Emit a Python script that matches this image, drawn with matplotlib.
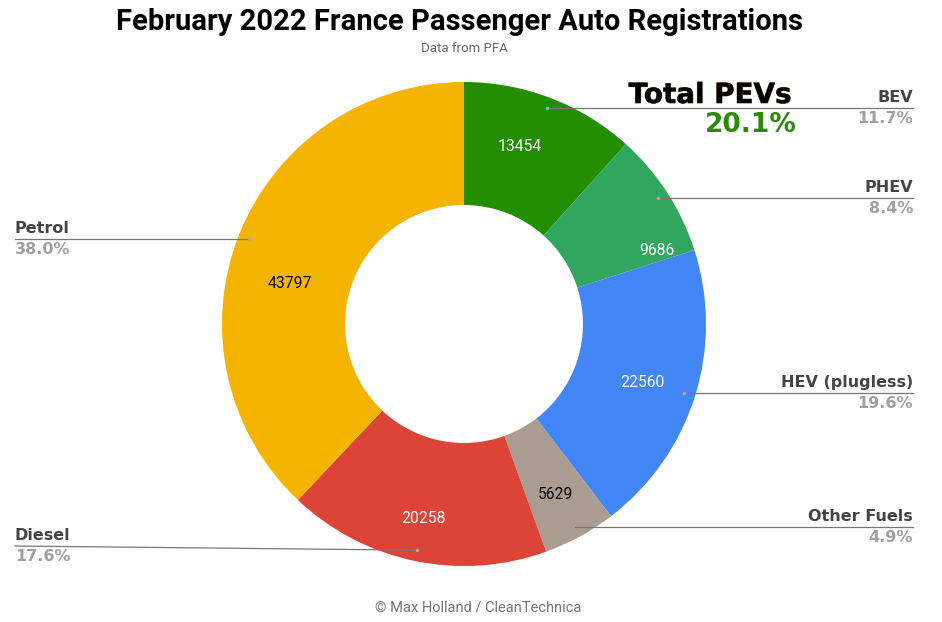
import numpy as np
import matplotlib
matplotlib.use("Agg")
import matplotlib.pyplot as plt
import matplotlib.patheffects as pe

categories = ["BEV", "PHEV", "HEV (plugless)", "Other Fuels", "Diesel", "Petrol"]
values = [13454, 9686, 22560, 5629, 20258, 43797]
pct_labels = ["11.7%", "8.4%", "19.6%", "4.9%", "17.6%", "38.0%"]
colors = ["#238f00", "#31a65f", "#4285f4", "#ab9c91", "#db4437", "#f4b400"]
value_colors = ["white", "white", "white", "black", "white", "black"]
total_pev_label = "20.1%"

W, H = 942, 622
fig = plt.figure(figsize=(W / 100, H / 100), dpi=100)

cx, cy = 464, 324
R, r_in = 242, 119

# pie axes (y up) drawn first
pax = fig.add_axes([0, 0, 1, 1], zorder=0)
wedges, _ = pax.pie(values, colors=colors, startangle=90, counterclock=False,
                    radius=R, center=(cx, H - cy),
                    wedgeprops=dict(width=R - r_in, linewidth=0, edgecolor="none"))
pax.set_xlim(0, W)
pax.set_ylim(0, H)
pax.set_aspect("auto")
pax.axis("off")

# overlay axes in pixel coordinates (y down)
ax = fig.add_axes([0, 0, 1, 1], zorder=1)
ax.patch.set_alpha(0)
ax.set_xlim(0, W)
ax.set_ylim(H, 0)
ax.axis("off")

total = sum(values)
cum = np.cumsum([0] + values)
mid_angles = [(cum[i] + values[i] / 2) / total * 2 * np.pi for i in range(len(values))]

lab_font = dict(family="DejaVu Sans", weight="bold", fontsize=11.5)
right_x, left_x = 913, 15
label_side = ["R", "R", "R", "R", "L", "L"]
line_y_override = {4: 546}
# small nudges (pixels) of value labels relative to mid-angle placement
value_nudge = {0: (-11, -5), 1: (38, 27), 2: (2, 3), 3: (3, 8), 4: (-3, 13), 5: (-2, 28)}

for i, a in enumerate(mid_angles):
    dx, dy = np.sin(a), -np.cos(a)
    nx, ny = value_nudge.get(i, (0, 0))
    vx, vy = cx + 185 * dx + nx, cy + 185 * dy + ny
    ax.text(vx, vy, str(values[i]), ha="center", va="center", fontsize=11.3,
            family="Roboto", color=value_colors[i])
    px, py = cx + 231 * dx, cy + 231 * dy
    ly = line_y_override.get(i, py)
    if label_side[i] == "R":
        ax.plot([px, right_x], [py, ly], color="#777777", lw=0.9)
        tx, ha = right_x, "right"
    else:
        ax.plot([left_x, px], [ly, py], color="#777777", lw=0.9)
        tx, ha = left_x, "left"
    if i != 3:
        ax.plot([px], [py], marker="o", ms=2.5, color="#aaaaaa", mec="none")
    ax.text(tx, ly - 3, categories[i], ha=ha, va="bottom", color="#444444", **lab_font)
    ax.text(tx, ly + 3, pct_labels[i], ha=ha, va="top", color="#a0a0a0", **lab_font)

ax.text(459, 22, "February 2022 France Passenger Auto Registrations", ha="center",
        va="center", fontsize=21, weight="bold", family="Roboto", color="black")
ax.text(464, 48, "Data from PFA", ha="center", va="center", fontsize=9.5,
        family="Roboto", color="#666666")
ax.text(478, 607, "© Max Holland / CleanTechnica", ha="center", va="center",
        fontsize=10.5, family="Roboto", color="#757575")

ax.text(710, 95, "Total PEVs", ha="center", va="center", fontsize=20,
        weight="bold", family="DejaVu Sans", color="black",
        path_effects=[pe.withStroke(linewidth=0.6, foreground="#6a4a20")])
ax.text(751, 125, total_pev_label, ha="center", va="center", fontsize=19,
        weight="bold", family="DejaVu Sans", color="#2a8a0a")

fig.savefig("out.png", dpi=100)
